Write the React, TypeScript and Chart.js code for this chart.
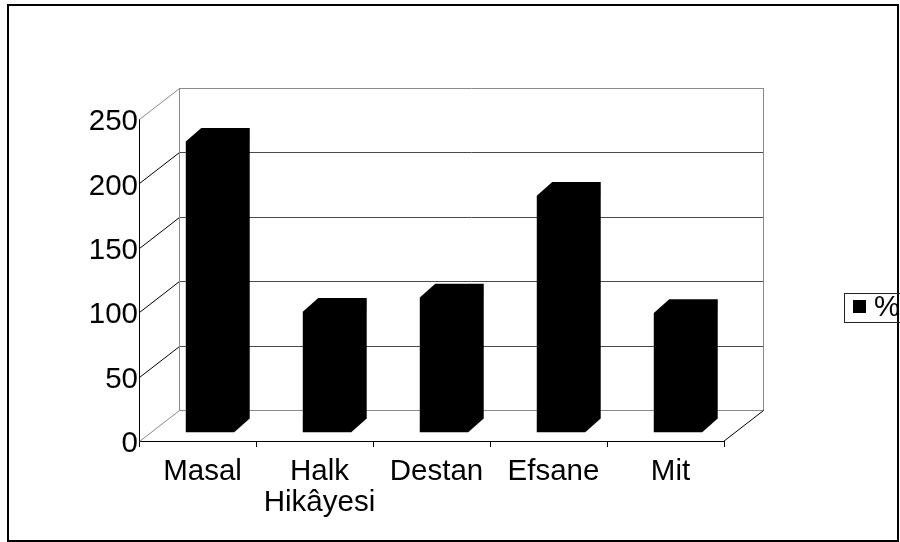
import React, { useEffect, useRef } from "react";
import { Chart, registerables } from "chart.js";

Chart.register(...registerables);

const categories: (string | string[])[] = ["Masal", ["Halk", "Hikâyesi"], "Destan", "Efsane", "Mit"];
const seriesLabel = "%";
const seriesValues = [226, 94, 105, 184, 93];
const yTicks = [0, 50, 100, 150, 200, 250];

const FONT = "'Liberation Sans', Arial, sans-serif";
const DEPTH = { dx: 40, dy: -31 };
const FACE = { dx: 12.5, dy: -8.3 };
const BACK = { dx: 15.5, dy: -13.7 };

const wallPlugin = {
  id: "wall3d",
  beforeDatasetsDraw(chart: any) {
    const { ctx } = chart;
    const x = chart.scales.x;
    const y = chart.scales.y;
    const l = x.left;
    const r = x.right;
    ctx.save();
    ctx.lineWidth = 1;
    const yMax = yTicks[yTicks.length - 1];
    const yMin = yTicks[0];
    yTicks.forEach((t) => {
      const yf = Math.round(y.getPixelForValue(t)) + 0.5;
      const yb = yf + DEPTH.dy;
      const edge = t === yMax || t === yMin;
      ctx.strokeStyle = edge ? "#8a8a8a" : "#4a4a4a";
      ctx.beginPath();
      ctx.moveTo(l + DEPTH.dx, yb);
      ctx.lineTo(r + DEPTH.dx, yb);
      ctx.stroke();
      ctx.strokeStyle = edge ? "#8a8a8a" : "#000";
      ctx.beginPath();
      ctx.moveTo(l + 0.5, yf);
      ctx.lineTo(l + 0.5 + DEPTH.dx, yb);
      ctx.stroke();
    });
    const yTop = Math.round(y.getPixelForValue(yMax)) + 0.5 + DEPTH.dy;
    const yBot = Math.round(y.getPixelForValue(yMin)) + 0.5 + DEPTH.dy;
    ctx.strokeStyle = "#8a8a8a";
    ctx.beginPath();
    ctx.moveTo(l + 0.5 + DEPTH.dx, yTop);
    ctx.lineTo(l + 0.5 + DEPTH.dx, yBot);
    ctx.moveTo(r - 0.5 + DEPTH.dx, yTop);
    ctx.lineTo(r - 0.5 + DEPTH.dx, yBot);
    ctx.stroke();
    const y0 = Math.round(y.getPixelForValue(yMin)) + 0.5;
    ctx.strokeStyle = "#000";
    ctx.beginPath();
    ctx.moveTo(r - 0.5, y0);
    ctx.lineTo(r - 0.5 + DEPTH.dx, y0 + DEPTH.dy);
    ctx.stroke();
    ctx.restore();
  },
  afterDatasetsDraw(chart: any) {
    const { ctx } = chart;
    const meta = chart.getDatasetMeta(0);
    ctx.save();
    ctx.fillStyle = "#000";
    meta.data.forEach((bar: any) => {
      const { x, y, base, width } = bar.getProps(["x", "y", "base", "width"], true);
      const fl = x - width / 2 + FACE.dx;
      const fr = x + width / 2 + FACE.dx;
      const ft = y + FACE.dy;
      const fb = base + FACE.dy;
      ctx.beginPath();
      ctx.moveTo(fl, fb);
      ctx.lineTo(fl, ft);
      ctx.lineTo(fl + BACK.dx, ft + BACK.dy);
      ctx.lineTo(fr + BACK.dx, ft + BACK.dy);
      ctx.lineTo(fr + BACK.dx, fb + BACK.dy);
      ctx.lineTo(fr, fb);
      ctx.closePath();
      ctx.fill();
    });
    ctx.restore();
  },
  afterDraw(chart: any) {
    const { ctx } = chart;
    ctx.save();
    ctx.strokeStyle = "#000";
    ctx.lineWidth = 2;
    ctx.strokeRect(8, 5, 890, 536);
    ctx.lineWidth = 1;
    ctx.strokeStyle = "#222";
    ctx.strokeRect(844.5, 293.5, 70, 29);
    ctx.fillStyle = "#000";
    ctx.fillRect(853, 300, 13, 13);
    ctx.font = `29px ${FONT}`;
    ctx.textBaseline = "middle";
    ctx.textAlign = "left";
    ctx.fillText(chart.data.datasets[0].label, 874, 308);
    ctx.restore();
  },
};

export default function App() {
  const ref = useRef<HTMLCanvasElement | null>(null);
  useEffect(() => {
    if (!ref.current) return;
    const chart = new Chart(ref.current, {
      type: "bar",
      data: {
        labels: categories,
        datasets: [
          {
            label: seriesLabel,
            data: seriesValues,
            backgroundColor: "rgba(0,0,0,0)",
            borderWidth: 0,
            barPercentage: 0.414,
            categoryPercentage: 1,
          },
        ],
      },
      options: {
        animation: false,
        responsive: false,
        devicePixelRatio: 1,
        layout: { padding: { top: 119, right: 176, left: 0, bottom: 0 } },
        plugins: { legend: { display: false }, tooltip: { enabled: false } },
        scales: {
          x: {
            afterFit: (s: any) => {
              s.height = 101;
            },
            grid: {
              offset: true,
              drawOnChartArea: false,
              drawTicks: true,
              tickLength: 6,
              color: "#000",
            },
            border: { display: true, color: "#000" },
            ticks: {
              color: "#000",
              font: { family: FONT, size: 29.5, lineHeight: 1.05 },
              padding: 9,
              labelOffset: 5,
              maxRotation: 0,
              autoSkip: false,
            },
          },
          y: {
            min: 0,
            max: 250,
            afterFit: (s: any) => {
              s.width = 139;
            },
            grid: { drawOnChartArea: false, drawTicks: false },
            border: { display: true, color: "#000" },
            ticks: {
              stepSize: 50,
              color: "#000",
              padding: 1,
              labelOffset: 3,
              font: { family: FONT, size: 29.5 },
            },
          },
        },
      },
      plugins: [wallPlugin],
    });
    return () => chart.destroy();
  }, []);
  return (
    <div style={{ position: "absolute", left: 0, top: 0, width: 900, height: 542, background: "#fff" }}>
      <canvas ref={ref} width={900} height={542} style={{ display: "block" }} />
    </div>
  );
}
